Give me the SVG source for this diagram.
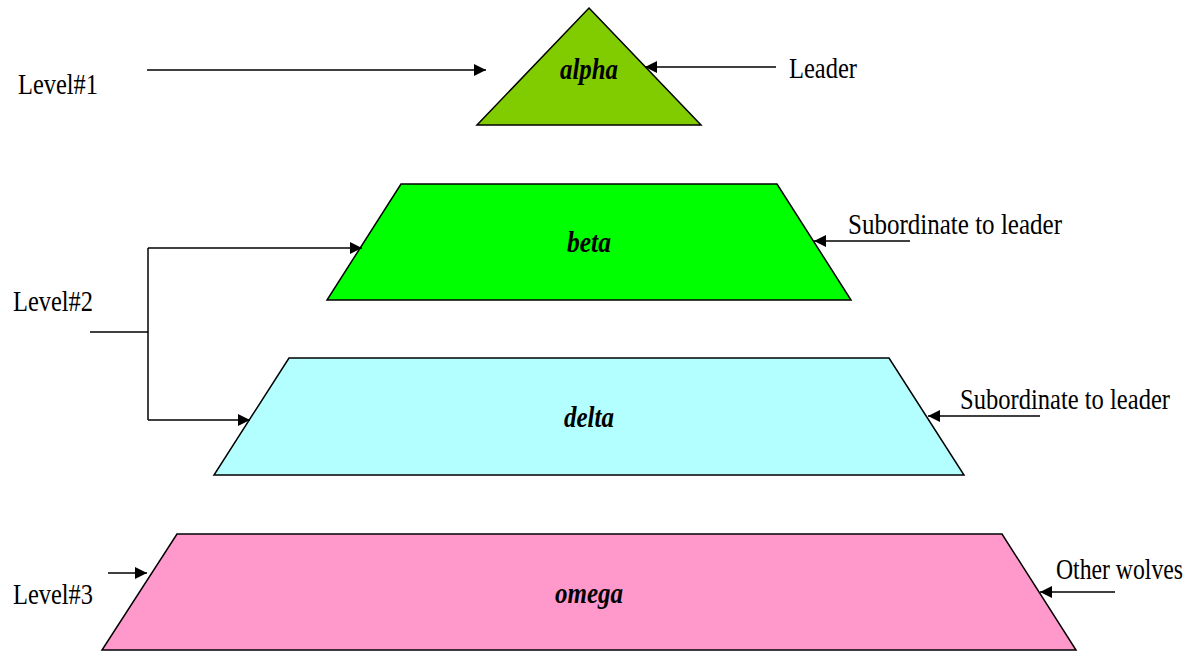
<svg xmlns="http://www.w3.org/2000/svg" width="1200" height="661" viewBox="0 0 1200 661">
<style>
.s{stroke:#000;stroke-width:1.5}
.t{font-family:"Liberation Serif",serif;font-size:30px;fill:#000}
.n{font-family:"Liberation Serif",serif;font-size:30px;font-weight:bold;font-style:italic;text-anchor:middle}
.c{stroke:#000;stroke-width:1.5;fill:none}
</style>
<defs><marker id="a" viewBox="0 0 10 10" refX="10" refY="5" markerWidth="12" markerHeight="12" markerUnits="userSpaceOnUse" orient="auto"><path d="M0,0L10,5L0,10z"/></marker></defs>
<rect width="1200" height="661" fill="#fff"/>
<g id="alpha"><polygon class="s" fill="#80cc00" points="589,8 701,125 477,125"/><text class="n" x="589" y="79" textLength="58" lengthAdjust="spacingAndGlyphs">alpha</text></g>
<g id="beta"><polygon class="s" fill="#00ff00" points="401,184 777,184 851,300 327,300"/><text class="n" x="589" y="252" textLength="44" lengthAdjust="spacingAndGlyphs">beta</text></g>
<g id="delta"><polygon class="s" fill="#b3ffff" points="289,358 889,358 964,475 214,475"/><text class="n" x="589" y="427" textLength="50" lengthAdjust="spacingAndGlyphs">delta</text></g>
<g id="omega"><polygon class="s" fill="#ff99cc" points="177,534 1002,534 1076,650 102,650"/><text class="n" x="589" y="603" textLength="68" lengthAdjust="spacingAndGlyphs">omega</text></g>
<g id="labels">
<text class="t" x="18" y="94" textLength="80" lengthAdjust="spacingAndGlyphs">Level#1</text>
<text class="t" x="13" y="311" textLength="80" lengthAdjust="spacingAndGlyphs">Level#2</text>
<text class="t" x="13" y="604" textLength="80" lengthAdjust="spacingAndGlyphs">Level#3</text>
<text class="t" x="789" y="78" textLength="68" lengthAdjust="spacingAndGlyphs">Leader</text>
<text class="t" x="848" y="234" textLength="214" lengthAdjust="spacingAndGlyphs">Subordinate to leader</text>
<text class="t" x="960" y="409" textLength="210" lengthAdjust="spacingAndGlyphs">Subordinate to leader</text>
<text class="t" x="1056" y="579" textLength="127" lengthAdjust="spacingAndGlyphs">Other wolves</text>
</g>
<g id="connectors">
<line class="c" x1="147" y1="70" x2="486" y2="70" marker-end="url(#a)"/>
<line class="c" x1="776" y1="67" x2="645" y2="67" marker-end="url(#a)"/>
<line class="c" x1="910" y1="241" x2="814" y2="241" marker-end="url(#a)"/>
<line class="c" x1="1040" y1="416" x2="928" y2="416" marker-end="url(#a)"/>
<line class="c" x1="1115" y1="592" x2="1040" y2="592" marker-end="url(#a)"/>
<line class="c" x1="90" y1="332" x2="148" y2="332"/>
<line class="c" x1="148" y1="248" x2="148" y2="420"/>
<line class="c" x1="148" y1="248" x2="362" y2="248" marker-end="url(#a)"/>
<line class="c" x1="148" y1="420" x2="250" y2="420" marker-end="url(#a)"/>
<line class="c" x1="108" y1="573" x2="147" y2="573" marker-end="url(#a)"/>
</g>
</svg>
